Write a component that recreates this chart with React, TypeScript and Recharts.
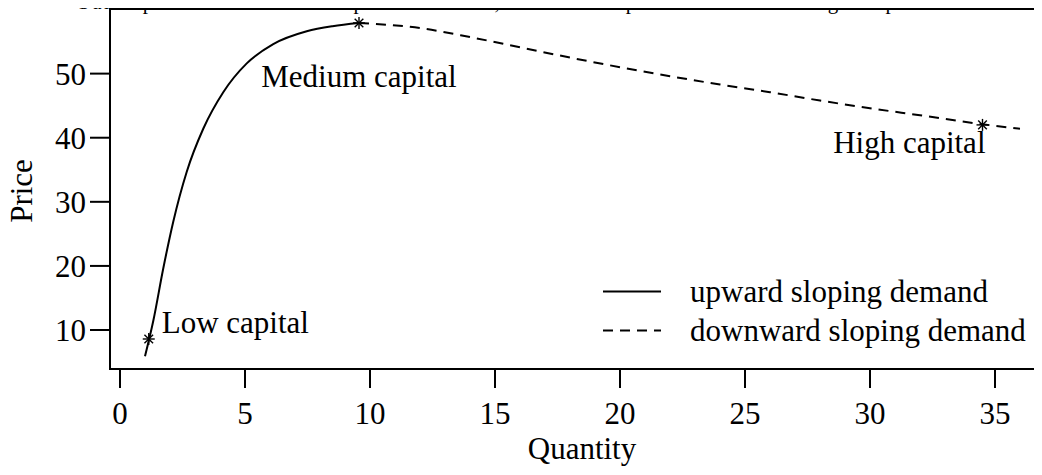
import React from 'react';
import {
  ComposedChart,
  Customized,
  Legend,
  Line,
  ReferenceArea,
  Scatter,
  XAxis,
  YAxis,
} from 'recharts';

const TITLE =
  'Same parameters. Low capital is \u03ba = 1, medium capital \u03ba = 10 and high capital \u03ba = 31';

const QUANTITY_TICKS = [0, 5, 10, 15, 20, 25, 30, 35];
const PRICE_TICKS = [10, 20, 30, 40, 50];

// upward sloping demand (solid)
const upwardQuantity = [1.0, 1.33, 1.73, 2.13, 2.67, 3.33, 4.13, 5.07, 6.13, 7.47, 8.5, 9.56];
const upwardPrice = [5.9, 11.4, 19.6, 26.9, 34.7, 41.4, 47.1, 51.6, 54.6, 56.6, 57.4, 57.9];

// downward sloping demand (dashed)
const downwardQuantity = [9.56, 12, 14, 16, 18, 20, 22, 24, 26, 28, 30, 32, 34.5, 36];
const downwardPrice = [57.9, 57.1, 55.7, 54.1, 52.5, 51.0, 49.6, 48.3, 47.1, 45.8, 44.6, 43.5, 42.1, 41.4];

// marked capital levels
const capitalLabels = ['Low capital', 'Medium capital', 'High capital'];
const capitalQuantity = [1.15, 9.56, 34.5];
const capitalPrice = [8.6, 57.9, 42.0];

const SERIES_NAMES = ['upward sloping demand', 'downward sloping demand'];

const upward = upwardQuantity.map((q, i) => ({ q, p: upwardPrice[i] }));
const downward = downwardQuantity.map((q, i) => ({ q, p: downwardPrice[i] }));
const capitals = capitalLabels.map((label, i) => ({
  label,
  q: capitalQuantity[i],
  p: capitalPrice[i],
}));

const FONT = '"Liberation Serif", "Times New Roman", serif';
const X_DOMAIN: [number, number] = [-0.4, 37.4];
const Y_DOMAIN: [number, number] = [3.92, 60.08];
const DASH = '10 7';

const labelPlacement: Record<string, { dx: number; dy: number; anchor: 'start' | 'middle' | 'end' }> = {
  'Low capital': { dx: 13, dy: -6, anchor: 'start' },
  'Medium capital': { dx: 0, dy: 64, anchor: 'middle' },
  'High capital': { dx: 3, dy: 28, anchor: 'end' },
};

function StarShape(props: any) {
  const { cx, cy, payload } = props;
  const place = labelPlacement[payload.label];
  const r = 6;
  const d = 4.3;
  return (
    <g>
      <g stroke="#000" strokeWidth={1.4}>
        <line x1={cx - r} y1={cy} x2={cx + r} y2={cy} />
        <line x1={cx} y1={cy - r} x2={cx} y2={cy + r} />
        <line x1={cx - d} y1={cy - d} x2={cx + d} y2={cy + d} />
        <line x1={cx - d} y1={cy + d} x2={cx + d} y2={cy - d} />
      </g>
      <text
        x={cx + place.dx}
        y={cy + place.dy}
        textAnchor={place.anchor}
        fontFamily={FONT}
        fontSize={31}
        fill="#000"
      >
        {payload.label}
      </text>
    </g>
  );
}

// legend drawn in the order of SERIES_NAMES
function LegendBox() {
  return (
    <div style={{ fontFamily: FONT, fontSize: 31, color: '#000' }}>
      {SERIES_NAMES.map((name, i) => (
        <div key={name} style={{ display: 'flex', alignItems: 'center', height: 39 }}>
          <svg width={87} height={39} style={{ display: 'block' }}>
            <line
              x1={0}
              y1={19.5}
              x2={58}
              y2={19.5}
              stroke="#000"
              strokeWidth={2}
              strokeDasharray={i === 1 ? DASH : undefined}
            />
          </svg>
          <span style={{ whiteSpace: 'nowrap', lineHeight: '39px' }}>{name}</span>
        </div>
      ))}
    </div>
  );
}

function Annotations() {
  return (
    <g fontFamily={FONT} fill="#000">
      <text x={78} y={9} fontSize={21} textLength={932} lengthAdjust="spacing">
        {TITLE}
      </text>
      <text x={582} y={459} fontSize={31} textAnchor="middle">
        Quantity
      </text>
      <text x={0} y={0} fontSize={31} textAnchor="middle" transform="translate(32, 191) rotate(-90)">
        Price
      </text>
    </g>
  );
}

export default function App() {
  const tickStyle = { fontFamily: FONT, fontSize: 31, fill: '#000' };
  return (
    <div style={{ margin: -8, width: 1042, height: 475, overflow: 'hidden', background: '#fff' }}>
      <ComposedChart
        width={1070}
        height={475}
        margin={{ top: 9, right: 15, bottom: 0, left: 0 }}
      >
        <XAxis
          dataKey="q"
          type="number"
          domain={X_DOMAIN}
          allowDataOverflow
          ticks={QUANTITY_TICKS}
          interval={0}
          height={106}
          axisLine={false}
          tickSize={19}
          tickMargin={14}
          tickLine={{ stroke: '#000', strokeWidth: 2 }}
          tick={tickStyle}
        />
        <YAxis
          dataKey="p"
          type="number"
          domain={Y_DOMAIN}
          allowDataOverflow
          ticks={PRICE_TICKS}
          interval={0}
          width={110}
          axisLine={false}
          tickSize={20}
          tickMargin={4}
          tickLine={{ stroke: '#000', strokeWidth: 2 }}
          tick={tickStyle}
        />
        <ReferenceArea
          x1={X_DOMAIN[0]}
          x2={X_DOMAIN[1]}
          y1={Y_DOMAIN[0]}
          y2={Y_DOMAIN[1]}
          fill="none"
          fillOpacity={0}
          stroke="#000"
          strokeWidth={2}
        />
        <Line
          data={upward}
          dataKey="p"
          name={SERIES_NAMES[0]}
          type="monotone"
          stroke="#000"
          strokeWidth={2}
          dot={false}
          activeDot={false}
          isAnimationActive={false}
        />
        <Line
          data={downward}
          dataKey="p"
          name={SERIES_NAMES[1]}
          type="monotone"
          stroke="#000"
          strokeWidth={2}
          strokeDasharray={DASH}
          dot={false}
          activeDot={false}
          isAnimationActive={false}
        />
        <Scatter
          data={capitals}
          dataKey="p"
          name="capital"
          legendType="none"
          shape={<StarShape />}
          isAnimationActive={false}
        />
        <Legend
          layout="vertical"
          align="center"
          verticalAlign="middle"
          content={<LegendBox />}
          wrapperStyle={{ left: 603, top: 272, width: 'auto' }}
        />
        <Customized component={<Annotations />} />
      </ComposedChart>
    </div>
  );
}
